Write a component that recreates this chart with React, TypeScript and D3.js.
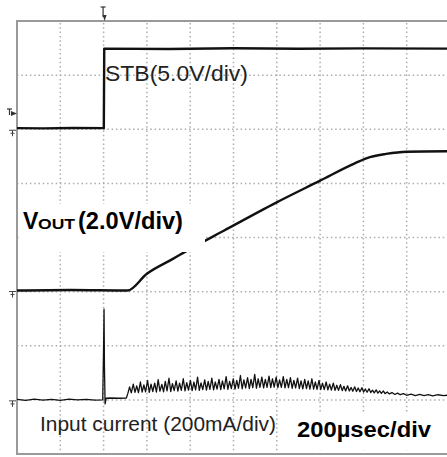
import * as d3 from "d3";

// time axis: 200 µs/div, 10 divisions
const timeDomain = [0, 2000];
const vDivs = 8;

// STB (5.0 V/div)
const stbTime = [0, 120, 260, 401, 403, 700, 1000, 1300, 1600, 2000];
const stbVolts = [0.1, 0.08, 0.12, 0.1, 7.45, 7.42, 7.48, 7.44, 7.47, 7.45];

// VOUT (2.0 V/div)
const voutTime = [0, 250, 510, 600, 720, 800, 955, 1195, 1400, 1560, 1630, 1705, 1800, 2000];
const voutVolts = [0, 0.02, 0, 0.62, 1.17, 1.54, 2.21, 3.24, 4.06, 4.7, 4.93, 5.05, 5.13, 5.15];

// Input current (200 mA/div) — [µs, mA]
const currentSamples: [number, number][] = [
  [0, 2], [40, -2], [80, 3], [120, -1], [160, 2], [200, -2], [240, 3], [280, 0], [320, 2], [360, -1],
  [396, 0], [400, 200], [402, 335], [404, 120], [407, -15], [412, 6], [430, 7], [470, 6], [505, 7],
  [512, 24], [520, 48], [528, 26], [537, 58], [545, 28], [553, 52], [561, 27], [570, 66], [578, 29],
  [586, 55], [594, 30], [603, 72], [611, 28], [619, 58], [627, 31], [636, 62], [644, 29], [652, 75],
  [660, 32], [669, 57], [677, 30], [685, 68], [693, 33], [702, 80], [710, 31], [718, 60], [726, 34],
  [735, 70], [743, 32], [751, 62], [759, 35], [768, 78], [776, 33], [784, 64], [792, 36], [801, 72],
  [809, 34], [817, 66], [825, 37], [834, 84], [842, 35], [850, 63], [858, 38], [867, 74], [875, 36],
  [883, 68], [891, 39], [900, 80], [908, 37], [916, 66], [924, 40], [933, 76], [941, 38], [949, 70],
  [957, 41], [966, 86], [974, 39], [982, 68], [990, 42], [999, 78], [1007, 40], [1015, 72], [1023, 43],
  [1032, 90], [1040, 41], [1048, 74], [1056, 44], [1065, 82], [1073, 42], [1081, 76], [1089, 45],
  [1098, 94], [1106, 43], [1114, 78], [1122, 46], [1131, 84], [1139, 44], [1147, 76], [1155, 46],
  [1164, 88], [1172, 45], [1180, 78], [1188, 47], [1197, 84], [1205, 45], [1213, 74], [1221, 46],
  [1230, 86], [1238, 44], [1246, 76], [1254, 45], [1263, 82], [1271, 43], [1279, 72], [1287, 44],
  [1296, 80], [1304, 42], [1312, 70], [1320, 41], [1329, 76], [1337, 42], [1345, 70], [1353, 40],
  [1362, 78], [1370, 40], [1378, 66], [1386, 39], [1395, 72], [1403, 38], [1411, 62], [1419, 38],
  [1428, 66], [1436, 37], [1444, 58], [1452, 36], [1461, 62], [1469, 35], [1477, 54], [1485, 35],
  [1494, 56], [1502, 34], [1510, 50], [1518, 33], [1527, 52], [1535, 33], [1543, 46], [1551, 32],
  [1560, 48], [1568, 31], [1576, 44], [1584, 30], [1593, 45], [1601, 29], [1609, 40], [1617, 28],
  [1626, 41], [1634, 27], [1642, 36], [1650, 26], [1659, 37], [1667, 25], [1675, 33], [1683, 24],
  [1692, 33], [1700, 23], [1710, 29], [1720, 22], [1732, 27], [1745, 20], [1758, 25], [1770, 19],
  [1785, 23], [1800, 17], [1820, 21], [1840, 16], [1860, 20], [1880, 16], [1900, 19], [1920, 15],
  [1945, 19], [1970, 16], [2000, 18],
];

const W = 447, H = 457;
const frame = { left: 17, top: 21, right: 450, bottom: 454 };
const FONT = "'Liberation Sans', Arial, Helvetica, sans-serif";

export default function App() {
  const x = d3.scaleLinear().domain(timeDomain).range([frame.left, frame.right]);
  const yDiv = d3.scaleLinear().domain([0, vDivs]).range([frame.bottom, frame.top]);

  // each channel: ground offset (div) + value / per-div
  const stbY = (v: number) => yDiv(6.0 + v / 5);
  const voutY = (v: number) => yDiv(3.02 + v / 2);
  const curY = (ma: number) => yDiv(1.0 + ma / 200);

  const line = d3.line<[number, number]>().x(d => d[0]).y(d => d[1]);
  const smooth = d3.line<[number, number]>().x(d => d[0]).y(d => d[1]).curve(d3.curveMonotoneX);

  const stbPath = line(stbTime.map((t, i) => [x(t), stbY(stbVolts[i])]));
  const voutPath = smooth(voutTime.map((t, i) => [x(t), voutY(voutVolts[i])]));
  const curPath = line(currentSamples.map(d => [x(d[0]), curY(d[1])]));

  const vTicks = d3.range(1, 10).map(i => x((i * (timeDomain[1] - timeDomain[0])) / 10));
  const hTicks = d3.range(1, vDivs).map(i => yDiv(i));

  const grounds = [stbY(0), voutY(0), curY(0)];
  const trigX = x(400);

  return (
    <svg width={W} height={H} style={{ position: "absolute", left: 0, top: 0, background: "#fff" }}>
      <rect width={W} height={H} fill="#fff" />
      {/* dotted graticule */}
      <g stroke="#adadad" strokeWidth={1.5} strokeDasharray="1.5,2.8">
        {vTicks.map((vx, i) => (
          <line key={"v" + i} x1={vx} x2={vx} y1={frame.top + 2} y2={frame.bottom} />
        ))}
        {hTicks.map((hy, i) => (
          <line key={"h" + i} x1={frame.left} x2={frame.right} y1={hy} y2={hy} />
        ))}
      </g>
      <rect x={frame.left} y={frame.top} width={frame.right - frame.left} height={frame.bottom - frame.top}
        fill="none" stroke="#9a9a9a" strokeWidth={2} />

      {/* traces */}
      <g fill="none" stroke="#111" strokeLinejoin="round">
        <path d={stbPath ?? ""} strokeWidth={2.4} />
        <path d={voutPath ?? ""} strokeWidth={2.4} />
        <path d={curPath ?? ""} strokeWidth={1.3} />
      </g>

      {/* trigger marker */}
      <g stroke="#333" strokeWidth={1.2} fill="#333">
        <line x1={trigX - 3} x2={trigX + 2} y1={7} y2={7} />
        <line x1={trigX - 0.5} x2={trigX - 0.5} y1={7} y2={17} />
        <path d={`M${trigX - 1},${15} L${trigX + 3},${15} L${trigX + 1},${21} Z`} stroke="none" />
        <line x1={7} x2={12} y1={109} y2={109} />
        <line x1={9.5} x2={9.5} y1={109} y2={115} />
        <path d={`M11,111 L17,113.5 L11,116 Z`} stroke="none" />
      </g>
      {/* ground markers */}
      <g stroke="#444" strokeWidth={1} fill="none">
        {grounds.map((gy, i) => (
          <g key={i}>
            <line x1={9} x2={16} y1={gy + 1} y2={gy + 1} />
            <line x1={12.5} x2={12.5} y1={gy + 1} y2={gy + 7} />
            <line x1={10.5} x2={14.5} y1={gy + 4} y2={gy + 4} />
          </g>
        ))}
      </g>

      {/* label boxes */}
      <rect x={20} y={204} width={185} height={48} fill="#fff" />
      <rect x={290} y={413} width={146} height={37} fill="#fff" />

      <g fontFamily={FONT}>
        <text x={105} y={81} fontSize={22} fill="#222" textLength={143} lengthAdjust="spacingAndGlyphs">
          STB(5.0V/div)
        </text>
        <text x={23} y={229} fontSize={23} fontWeight="bold" fill="#000">V</text>
        <text x={38} y={229} fontSize={14} fontWeight="bold" fill="#000" textLength={37} lengthAdjust="spacingAndGlyphs">OUT</text>
        <text x={78} y={229} fontSize={23} fontWeight="bold" fill="#000" textLength={105} lengthAdjust="spacingAndGlyphs">
          (2.0V/div)
        </text>
        <text x={40} y={431} fontSize={21} fill="#222" textLength={236} lengthAdjust="spacingAndGlyphs">
          Input current (200mA/div)
        </text>
        <text x={297} y={437} fontSize={22} fontWeight="bold" fill="#000" textLength={134} lengthAdjust="spacingAndGlyphs">
          200µsec/div
        </text>
      </g>
    </svg>
  );
}
